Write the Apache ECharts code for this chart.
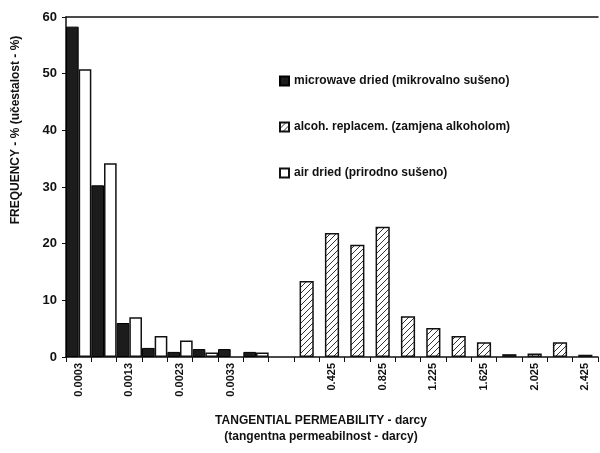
<!DOCTYPE html>
<html>
<head>
<meta charset="utf-8">
<script src="https://cdn.jsdelivr.net/npm/echarts@6/dist/echarts.min.js"></script>
<style>
    html, body { margin: 0; padding: 0; background: #fff; }
    #chart { width: 600px; height: 453px; }
</style>
</head>
<body>
<div id="chart"></div>
<script>
// permeability classes (darcy); empty slot separates the two scales
var categories = ['0.0003', '0.0008', '0.0013', '0.0018', '0.0023', '0.0028', '0.0033', '0.0038', '',
    '0.225', '0.425', '0.625', '0.825', '1.025', '1.225', '1.425', '1.625', '1.825', '2.025', '2.225', '2.425'];

// frequency in %
var microwaveDried = [58.3, 30.3, 6.0, 1.6, 0.9, 1.4, 1.4, 0.9, null,
    null, null, null, null, null, null, null, null, null, null, null, null];
var airDried = [50.8, 34.2, 7.0, 3.7, 2.9, 0.8, null, 0.8, null,
    null, null, null, null, null, null, null, null, null, null, null, null];
var alcoholReplaced = [null, null, null, null, null, null, null, null, null,
    13.4, 21.9, 19.8, 23.0, 7.2, 5.1, 3.7, 2.6, 0.5, 0.6, 2.6, 0.4];

var seriesNames = ['microwave dried (mikrovalno sušeno)', 'alcoh. replacem. (zamjena alkoholom)', 'air dried (prirodno sušeno)'];

// hatch pattern for the alcohol series
function makeHatch() {
    var c = document.createElement('canvas');
    c.width = 6;
    c.height = 6;
    var ctx = c.getContext('2d');
    ctx.fillStyle = '#fff';
    ctx.fillRect(0, 0, 6, 6);
    ctx.strokeStyle = '#333';
    ctx.lineWidth = 1;
    ctx.beginPath();
    ctx.moveTo(-1, 7); ctx.lineTo(7, -1);
    ctx.moveTo(-1, 1); ctx.lineTo(1, -1);
    ctx.moveTo(5, 7); ctx.lineTo(7, 5);
    ctx.stroke();
    return c;
}

var font = 'Liberation Sans, Arial, sans-serif';
var chart = echarts.init(document.getElementById('chart'), null, { renderer: 'canvas' });

chart.setOption({
    animation: false,
    backgroundColor: '#fff',
    textStyle: { fontFamily: font, color: '#111' },
    grid: { left: 66, right: 2, top: 17, bottom: 96 },
    legend: {
        orient: 'vertical',
        left: 274,
        top: 70,
        icon: 'rect',
        itemWidth: 9,
        itemHeight: 9,
        itemGap: 34,
        data: seriesNames,
        textStyle: { fontFamily: font, fontSize: 12, fontWeight: 'bold', color: '#111' }
    },
    xAxis: [{
        type: 'category',
        data: categories,
        position: 'bottom',
        axisLine: { lineStyle: { color: '#111', width: 1.5 } },
        axisTick: { show: true, interval: 0, length: 5, lineStyle: { color: '#111', width: 1 } },
        axisLabel: { interval: 1, rotate: 90, margin: 6, fontSize: 11, fontWeight: 'bold', color: '#111' },
        name: 'TANGENTIAL PERMEABILITY - darcy\n(tangentna permeabilnost - darcy)',
        nameLocation: 'middle',
        nameGap: 56,
        nameTextStyle: { fontSize: 12, fontWeight: 'bold', color: '#111', lineHeight: 16, padding: [0, 22, 0, 0] }
    }, {
        type: 'category',
        data: categories,
        position: 'top',
        axisLine: { lineStyle: { color: '#111', width: 1.5 } },
        axisTick: { show: false },
        axisLabel: { show: false }
    }],
    yAxis: {
        type: 'value',
        min: 0,
        max: 60,
        interval: 10,
        axisLine: { show: true, lineStyle: { color: '#111', width: 1.5 } },
        axisTick: { show: true, length: 4, lineStyle: { color: '#111' } },
        splitLine: { show: false },
        axisLabel: { fontSize: 13, fontWeight: 'bold', color: '#111', margin: 9 },
        name: 'FREQUENCY - % (učestalost - %)',
        nameLocation: 'middle',
        nameRotate: 90,
        nameGap: 44,
        nameTextStyle: { fontSize: 12, fontWeight: 'bold', color: '#111', padding: [0, 0, 0, 114] }
    },
    series: [{
        name: seriesNames[0],
        type: 'bar',
        xAxisIndex: 0,
        data: microwaveDried,
        barGap: '0%',
        barCategoryGap: '0%',
        itemStyle: { color: '#1c1c1c', borderColor: '#000', borderWidth: 1 }
    }, {
        name: seriesNames[2],
        type: 'bar',
        xAxisIndex: 0,
        data: airDried,
        itemStyle: { color: '#fff', borderColor: '#111', borderWidth: 1.5 }
    }, {
        name: seriesNames[1],
        type: 'bar',
        xAxisIndex: 1,
        data: alcoholReplaced,
        barWidth: '56%',
        itemStyle: { color: { image: makeHatch(), repeat: 'repeat' }, borderColor: '#111', borderWidth: 1.5 }
    }]
});
</script>
</body>
</html>
